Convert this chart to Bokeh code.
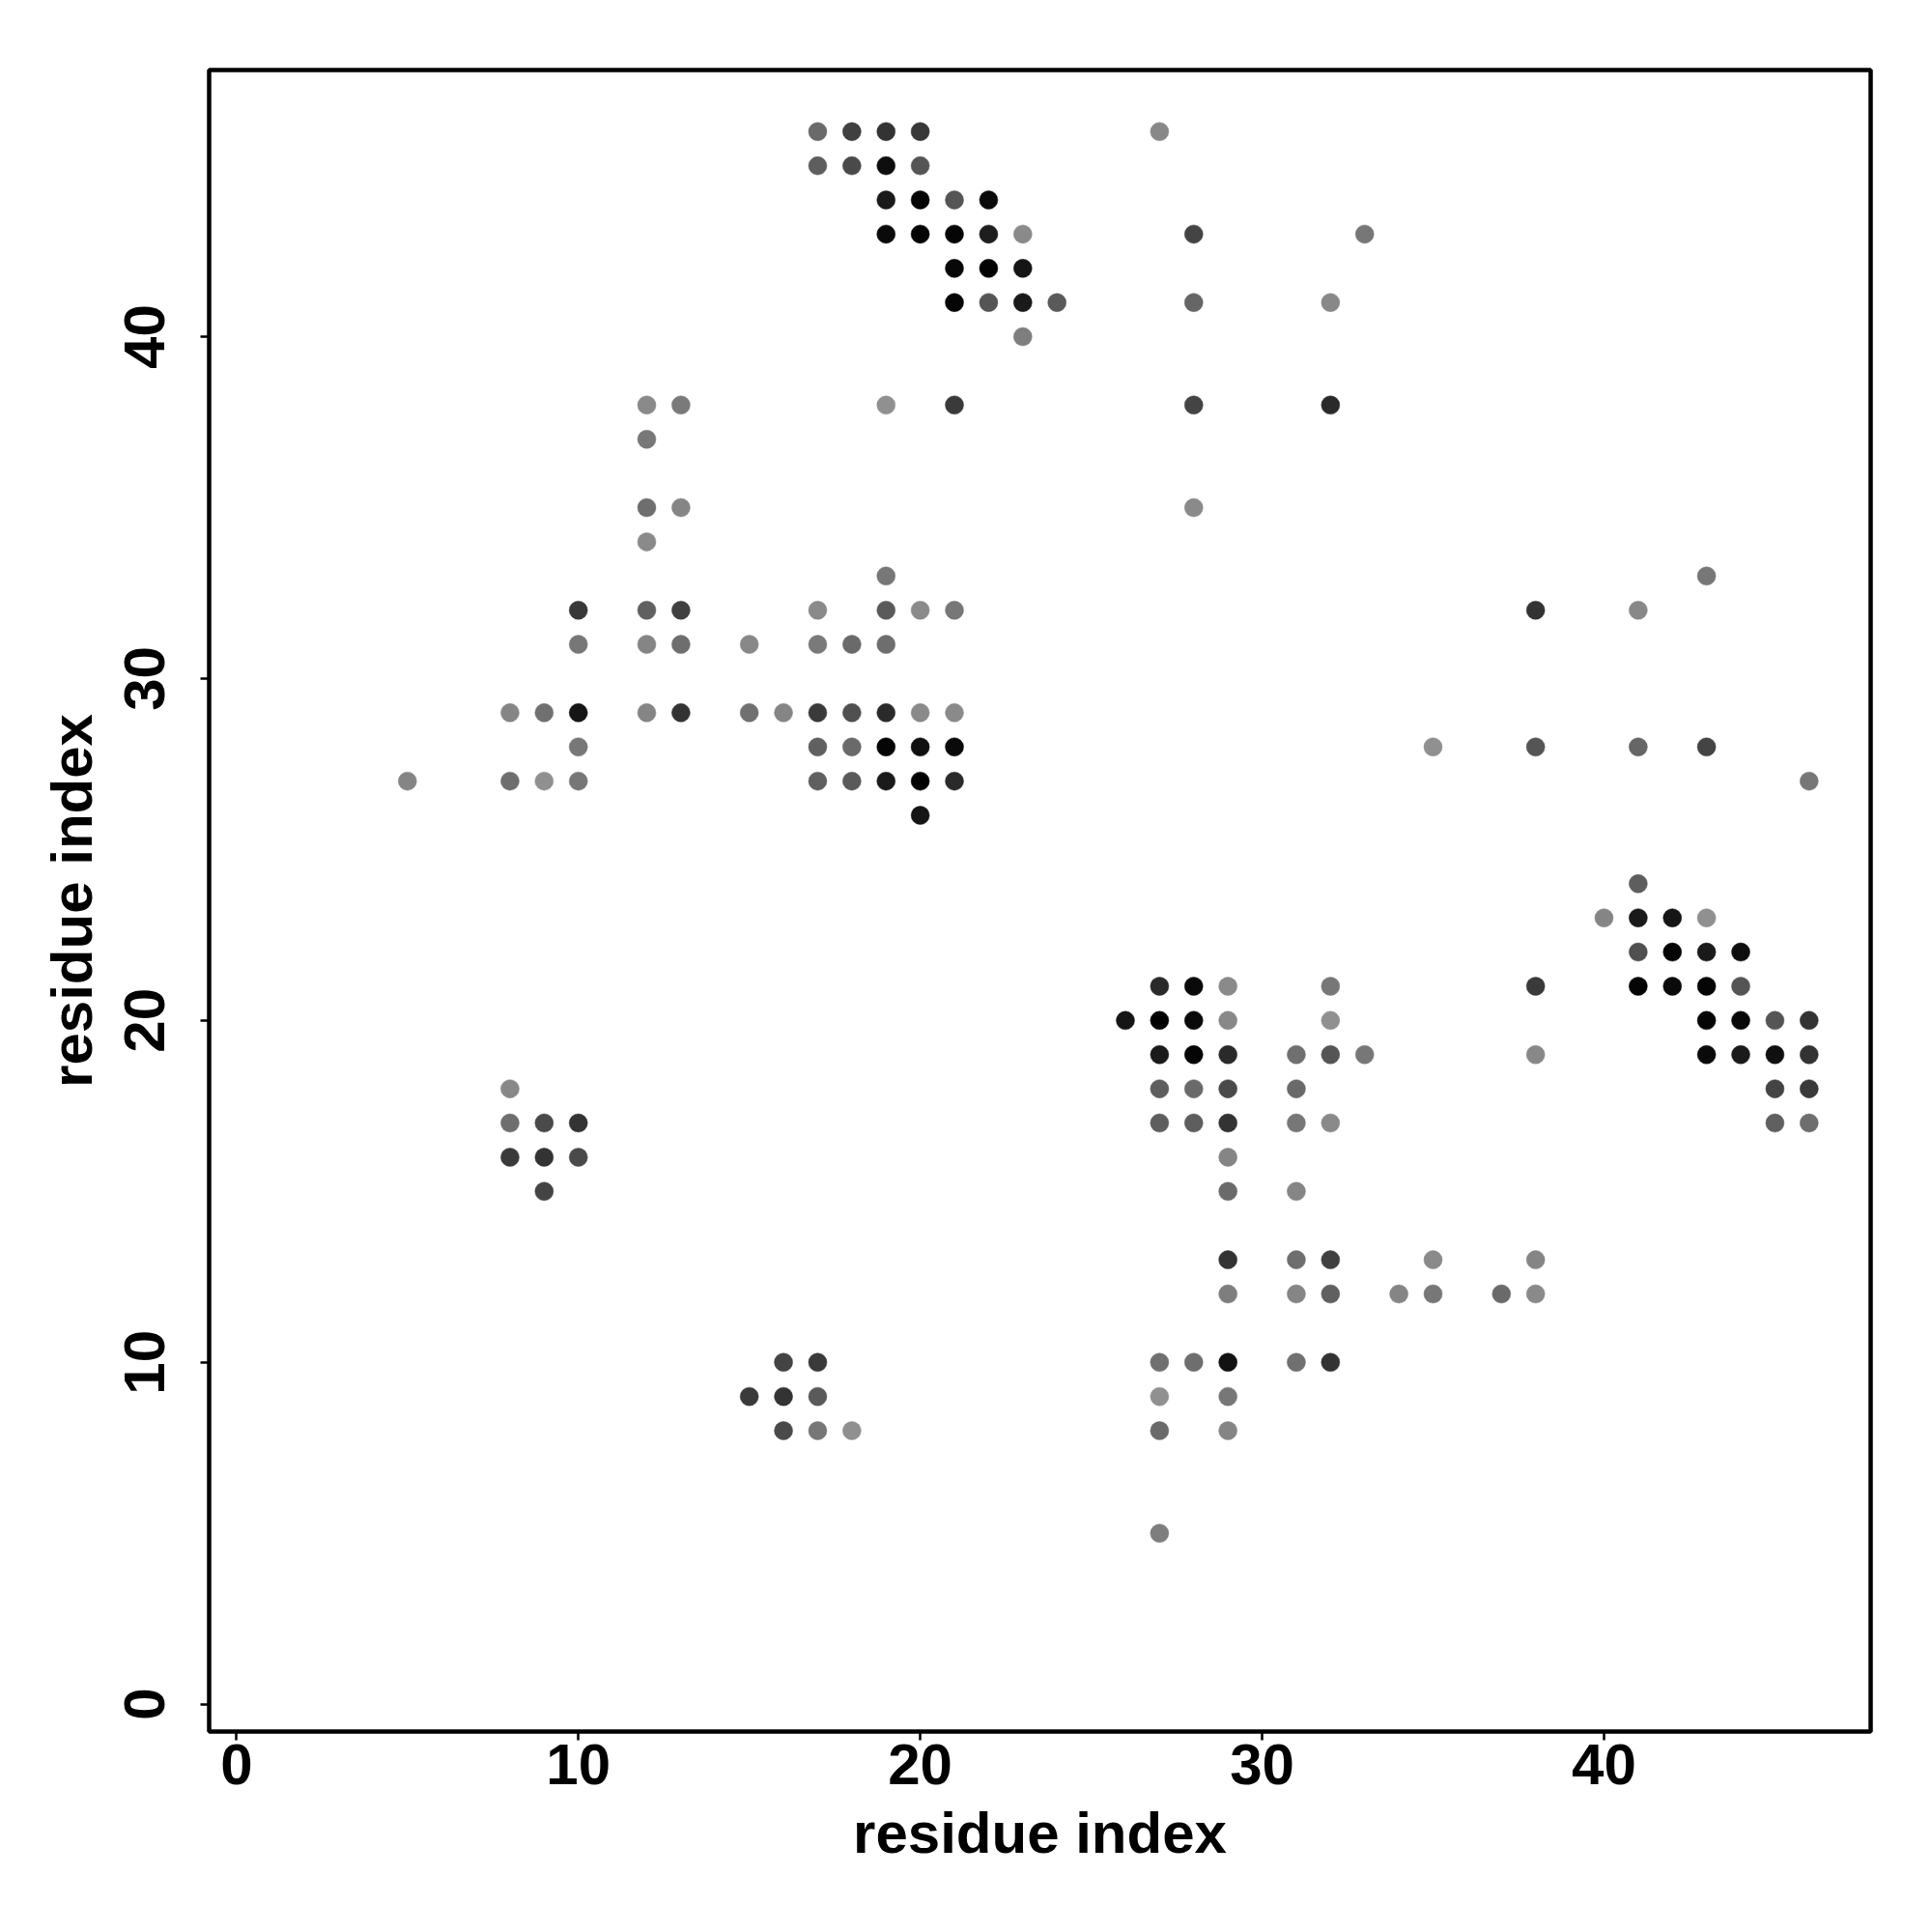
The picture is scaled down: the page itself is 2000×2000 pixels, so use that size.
from bokeh.plotting import figure
from bokeh.models import Range1d, FixedTicker, ColumnDataSource
from bokeh.embed import file_html
from bokeh.resources import INLINE

# contact points: residue i, residue j, grey level (0 = black, 255 = white)
res_i = [17, 18, 19, 20, 27,
         17, 18, 19, 20,
         19, 20, 21, 22,
         19, 20, 21, 22, 23, 28, 33,
         21, 22, 23,
         21, 22, 23, 24, 28, 32,
         23,
         12, 13, 19, 21, 28, 32,
         12,
         12, 13, 28,
         12,
         19, 43,
         10, 12, 13, 17, 19, 20, 21, 38, 41,
         10, 12, 13, 15, 17, 18, 19,
         8, 9, 10, 12, 13, 15, 16, 17, 18, 19, 20, 21,
         10, 17, 18, 19, 20, 21, 35, 38, 41, 43,
         5, 8, 9, 10, 17, 18, 19, 20, 21, 46,
         20,
         41,
         40, 41, 42, 43,
         41, 42, 43, 44,
         27, 28, 29, 32, 38, 41, 42, 43, 44,
         26, 27, 28, 29, 32, 43, 44, 45, 46,
         27, 28, 29, 31, 32, 33, 38, 43, 44, 45, 46,
         8, 27, 28, 29, 31, 45, 46,
         8, 9, 10, 27, 28, 29, 31, 32, 45, 46,
         8, 9, 10, 29,
         9, 29, 31,
         29, 31, 32, 35, 38,
         29, 31, 32, 34, 35, 37, 38,
         16, 17, 27, 28, 29, 31, 32,
         15, 16, 17, 27, 29,
         16, 17, 18, 27, 29,
         27]
res_j = [46, 46, 46, 46, 46,
         45, 45, 45, 45,
         44, 44, 44, 44,
         43, 43, 43, 43, 43, 43, 43,
         42, 42, 42,
         41, 41, 41, 41, 41, 41,
         40,
         38, 38, 38, 38, 38, 38,
         37,
         35, 35, 35,
         34,
         33, 33,
         32, 32, 32, 32, 32, 32, 32, 32, 32,
         31, 31, 31, 31, 31, 31, 31,
         29, 29, 29, 29, 29, 29, 29, 29, 29, 29, 29, 29,
         28, 28, 28, 28, 28, 28, 28, 28, 28, 28,
         27, 27, 27, 27, 27, 27, 27, 27, 27, 27,
         26,
         24,
         23, 23, 23, 23,
         22, 22, 22, 22,
         21, 21, 21, 21, 21, 21, 21, 21, 21,
         20, 20, 20, 20, 20, 20, 20, 20, 20,
         19, 19, 19, 19, 19, 19, 19, 19, 19, 19, 19,
         18, 18, 18, 18, 18, 18, 18,
         17, 17, 17, 17, 17, 17, 17, 17, 17, 17,
         16, 16, 16, 16,
         15, 15, 15,
         13, 13, 13, 13, 13,
         12, 12, 12, 12, 12, 12, 12,
         10, 10, 10, 10, 10, 10, 10,
         9, 9, 9, 9, 9,
         8, 8, 8, 8, 8,
         5]
grey = [0x6a, 0x40, 0x33, 0x38, 0x88,
        0x5e, 0x4a, 0x0e, 0x55,
        0x1a, 0x05, 0x55, 0x0a,
        0x0a, 0x05, 0x05, 0x1e, 0x8a, 0x44, 0x77,
        0x08, 0x03, 0x15,
        0x05, 0x55, 0x1a, 0x5a, 0x66, 0x88,
        0x7e,
        0x8a, 0x7a, 0x90, 0x3a, 0x44, 0x2a,
        0x77,
        0x6e, 0x85, 0x8a,
        0x8a,
        0x77, 0x77,
        0x38, 0x60, 0x40, 0x8a, 0x5a, 0x8a, 0x77, 0x33, 0x88,
        0x77, 0x85, 0x6e, 0x88, 0x7a, 0x6a, 0x6e,
        0x85, 0x70, 0x15, 0x85, 0x33, 0x70, 0x85, 0x3a, 0x50, 0x2a, 0x8a, 0x8a,
        0x77, 0x60, 0x6a, 0x05, 0x10, 0x0a, 0x90, 0x55, 0x66, 0x44,
        0x85, 0x6e, 0x90, 0x77, 0x60, 0x5a, 0x1a, 0x00, 0x2a, 0x77,
        0x15,
        0x5e,
        0x85, 0x1a, 0x15, 0x90,
        0x50, 0x05, 0x1a, 0x0e,
        0x2a, 0x0a, 0x8a, 0x77, 0x3a, 0x05, 0x0a, 0x05, 0x55,
        0x15, 0x00, 0x0a, 0x88, 0x90, 0x05, 0x08, 0x55, 0x33,
        0x1a, 0x05, 0x2a, 0x70, 0x55, 0x77, 0x88, 0x0a, 0x1a, 0x10, 0x33,
        0x88, 0x5e, 0x6a, 0x4a, 0x6a, 0x44, 0x3a,
        0x6e, 0x4a, 0x33, 0x5e, 0x5e, 0x33, 0x77, 0x8a, 0x60, 0x6e,
        0x3a, 0x33, 0x4a, 0x85,
        0x44, 0x6a, 0x85,
        0x33, 0x6e, 0x40, 0x8a, 0x85,
        0x7e, 0x85, 0x60, 0x85, 0x77, 0x6a, 0x8a,
        0x44, 0x3a, 0x70, 0x6e, 0x12, 0x70, 0x33,
        0x3a, 0x33, 0x5a, 0x90, 0x77,
        0x4a, 0x77, 0x90, 0x6a, 0x85,
        0x7e]

tick_values = [0, 10, 20, 30, 40]

colors = ["#%02x%02x%02x" % (g, g, g) for g in grey]
src = ColumnDataSource(dict(x=res_i, y=res_j, c=colors))

p = figure(width=1984, height=1984, output_backend="svg", toolbar_location=None,
           x_range=Range1d(-0.8, 47.8), y_range=Range1d(-0.8, 47.8),
           min_border_left=216, min_border_right=48, min_border_top=72, min_border_bottom=192)
p.background_fill_color = "white"
p.border_fill_color = "white"
p.grid.visible = False
p.outline_line_color = "black"
p.outline_line_width = 4.5

p.scatter("x", "y", source=src, size=19, fill_color="c", line_color="c", line_width=0.5)

FONT = "Liberation Sans"
for ax in (p.xaxis[0], p.yaxis[0]):
    ax.ticker = FixedTicker(ticks=tick_values)
    ax.axis_line_color = None
    ax.major_tick_line_color = "black"
    ax.major_tick_line_width = 2.5
    ax.major_tick_out = 9
    ax.major_tick_in = 0
    ax.minor_tick_line_color = None
    ax.major_label_text_font = FONT
    ax.major_label_text_font_style = "bold"
    ax.major_label_text_font_size = "60px"
    ax.major_label_text_color = "black"
    ax.axis_label = "residue index"
    ax.axis_label_text_font = FONT
    ax.axis_label_text_font_style = "bold"
    ax.axis_label_text_font_size = "60px"
    ax.axis_label_text_color = "black"

p.xaxis.major_label_standoff = 4
p.xaxis.axis_label_standoff = 14
p.yaxis.major_label_orientation = "vertical"
p.yaxis.major_label_standoff = 37
p.yaxis.axis_label_standoff = 19

open("out.html", "w").write(file_html(p, INLINE))
